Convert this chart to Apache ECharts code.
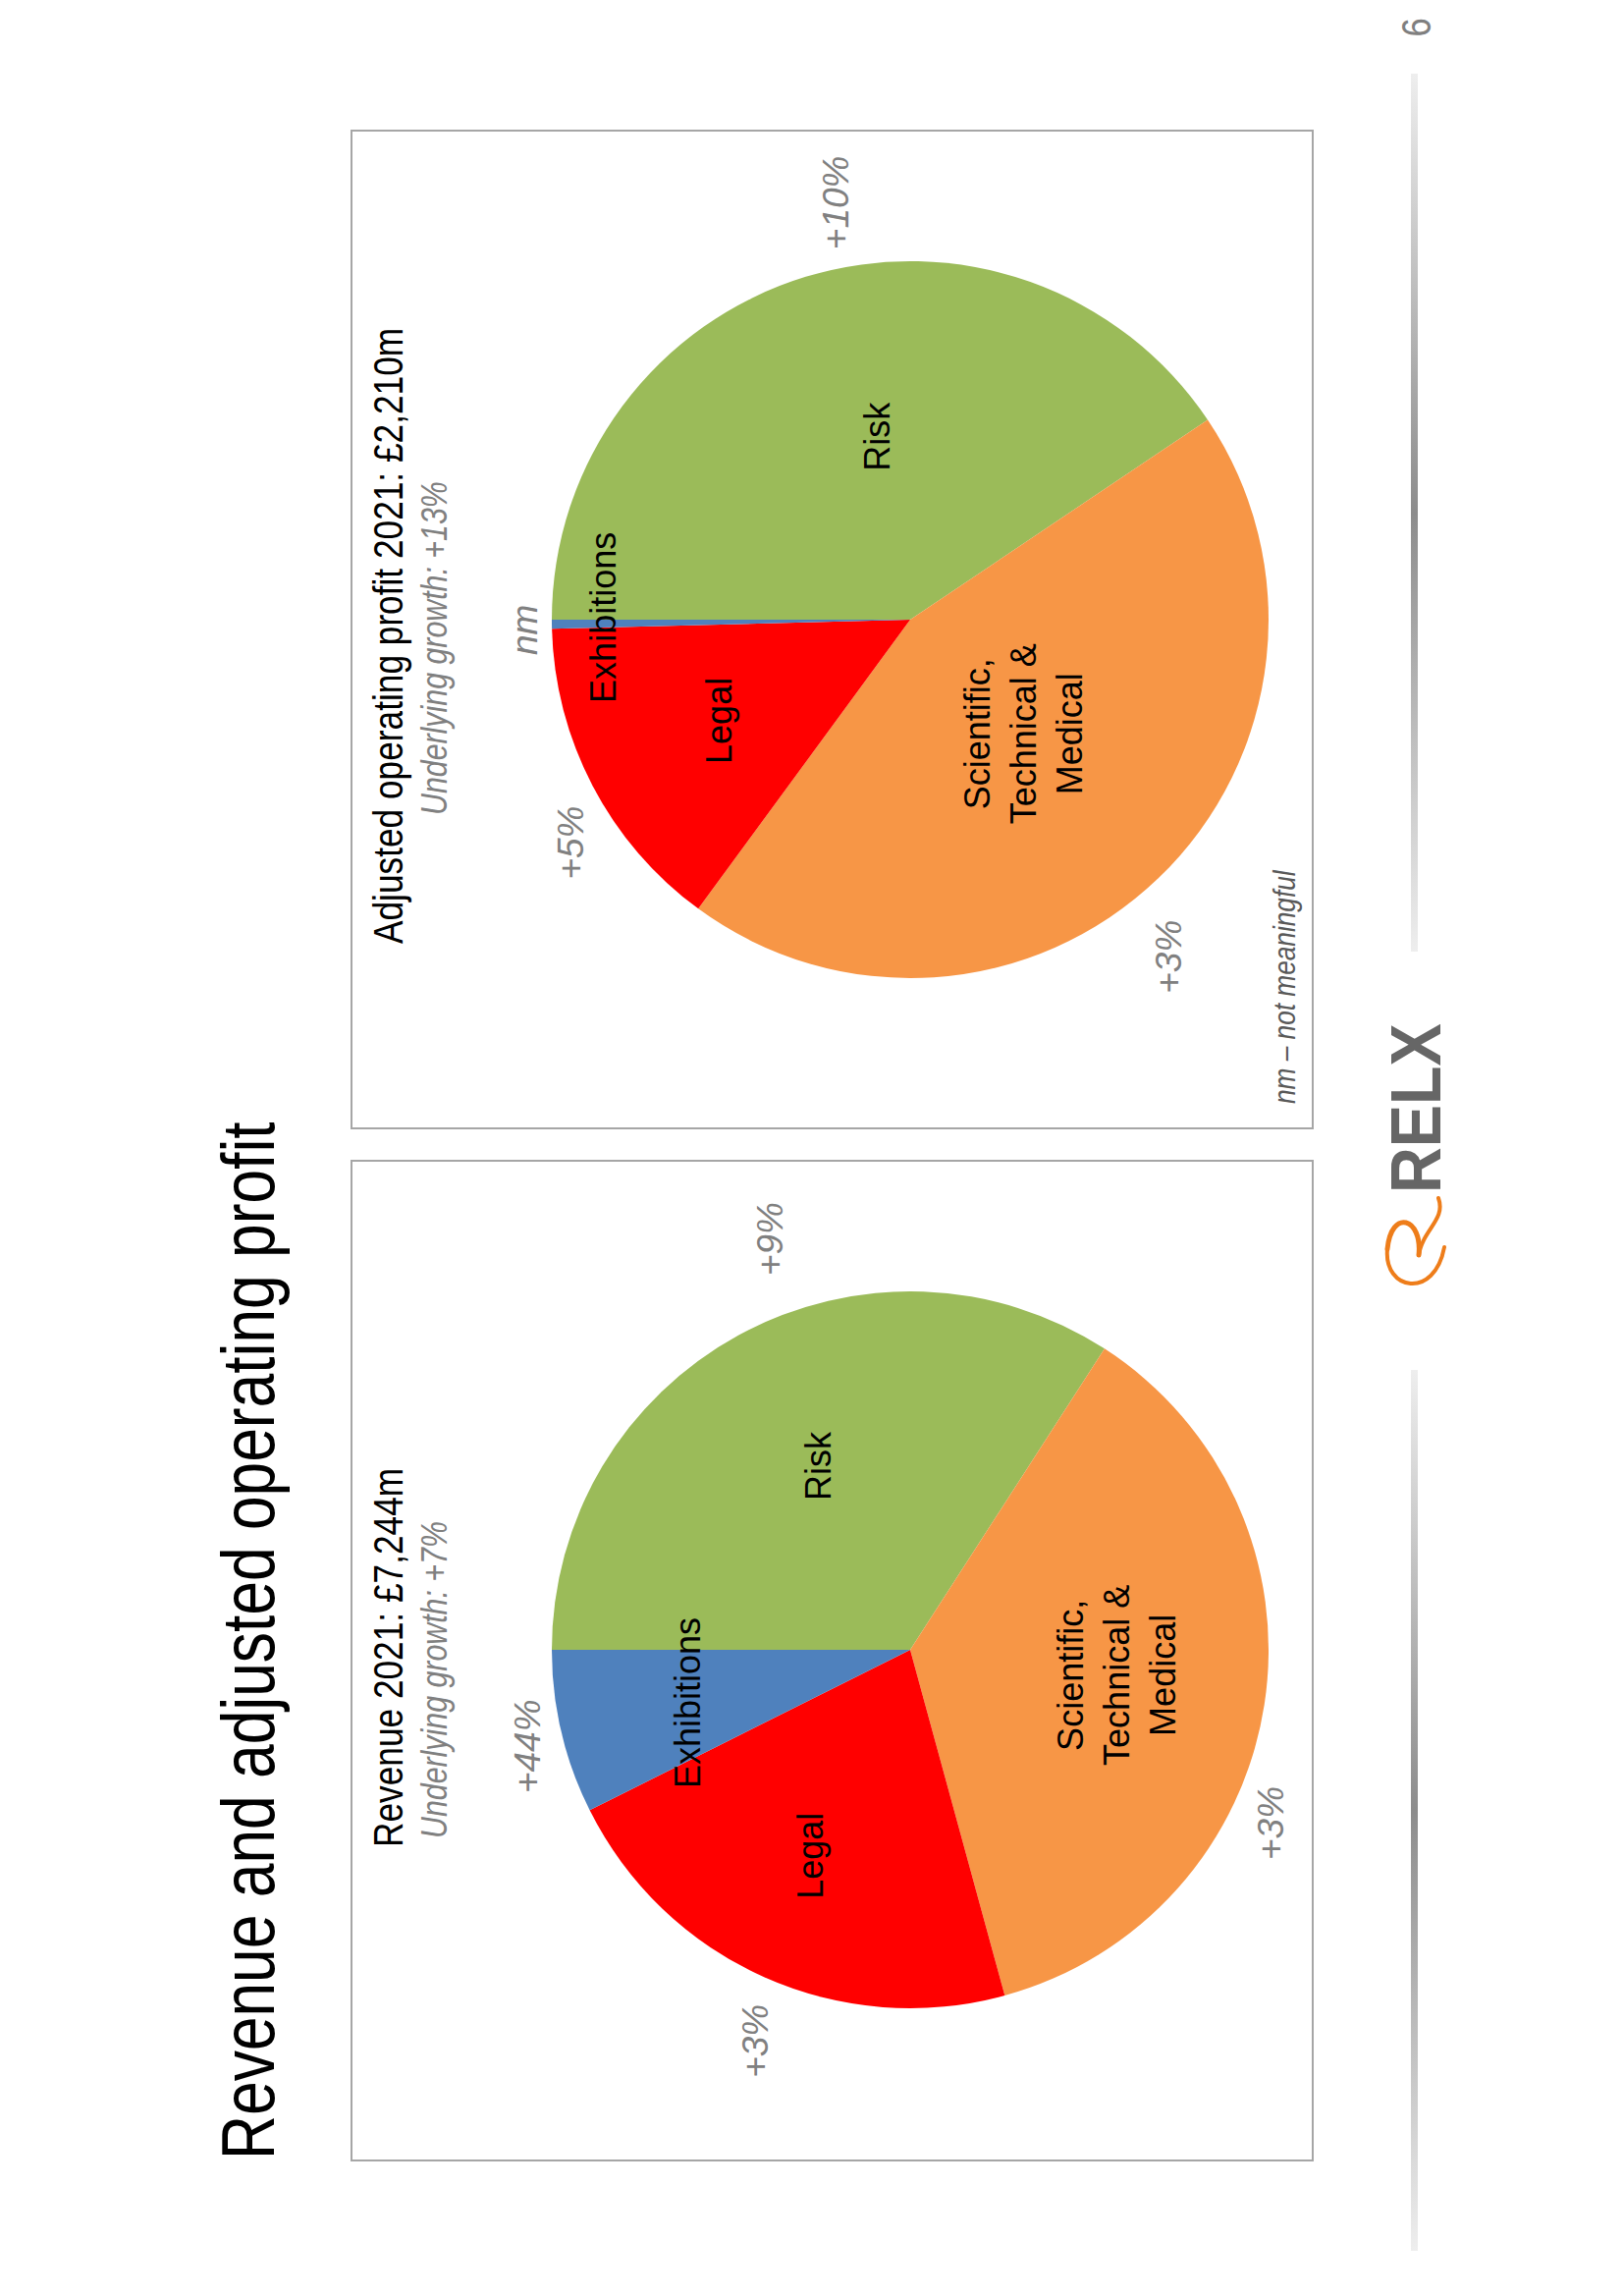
<!DOCTYPE html>
<html>
<head>
<meta charset="utf-8">
<script src="https://cdn.jsdelivr.net/npm/echarts@6/dist/echarts.min.js"></script>
<style>
html,body{margin:0;padding:0;background:#fff;overflow:hidden;width:1653px;height:2338px;}
#wrap{position:absolute;left:0;top:0;width:2338px;height:1653px;transform-origin:0 0;transform:translate(0,2338px) rotate(-90deg);}
</style>
</head>
<body>
<div id="wrap"></div>
<script>
// ---- data ----
const segments = ['Risk', 'Scientific,\nTechnical &\nMedical', 'Legal', 'Exhibitions'];
const revenueValues = [2472, 2653, 1584, 535];     // £m
const profitValues = [897, 983, 321, 9];           // £m
const revenueGrowth = ['+9%', '+3%', '+3%', '+44%'];
const profitGrowth = ['+10%', '+3%', '+5%', 'nm'];
const colors = ['#9BBB59', '#F79646', '#FF0000', '#4F81BD'];

const FONT = "'Liberation Sans',Arial,sans-serif";
const SQ = 0.82;   // horizontal condensing of slide text
const R = 365;
const revCenter = [658, 927];
const proCenter = [1707, 927];

function mk(values) { return segments.map((n, i) => ({ name: n, value: values[i] })); }

function basePie(values, center) {
  return {
    type: 'pie', center: center, radius: [0, R], startAngle: 90, clockwise: true,
    silent: true, animation: false, avoidLabelOverlap: false,
    itemStyle: { borderWidth: 0 },
    label: { show: false }, labelLine: { show: false },
    data: mk(values).map((d, i) => ({ ...d, itemStyle: { color: colors[i] } }))
  };
}
function namePie(values, center, nudge) {
  return {
    type: 'pie', center: center, radius: [73, R], startAngle: 90, clockwise: true,
    silent: true, animation: false, avoidLabelOverlap: false, z: 3,
    itemStyle: { color: 'rgba(0,0,0,0)', borderWidth: 0 },
    label: { show: true, position: 'inside', formatter: '{b}', fontFamily: FONT,
             fontSize: 36, lineHeight: 47, color: '#000', align: 'center' },
    labelLine: { show: false },
    labelLayout: p => ({ dx: nudge[p.dataIndex][0], dy: nudge[p.dataIndex][1] }),
    data: mk(values)
  };
}
function growthPie(values, center, growth, nudge) {
  return {
    type: 'pie', center: center, radius: [R, 475], startAngle: 90, clockwise: true,
    silent: true, animation: false, avoidLabelOverlap: false, z: 3,
    itemStyle: { color: 'rgba(0,0,0,0)', borderWidth: 0 },
    label: { show: true, position: 'inside', formatter: p => growth[p.dataIndex],
             fontFamily: FONT, fontSize: 37, fontStyle: 'italic', color: '#808080' },
    labelLine: { show: false },
    labelLayout: p => ({ dx: nudge[p.dataIndex][0], dy: nudge[p.dataIndex][1] }),
    data: mk(values)
  };
}

function txt(x, y, text, size, opts) {
  opts = opts || {};
  return {
    type: 'text', x: x, y: y, scaleX: opts.sx || SQ, silent: true, z: 10,
    style: {
      text: text, fontFamily: FONT, fontSize: size,
      fontStyle: opts.italic ? 'italic' : 'normal',
      fontWeight: opts.bold ? 'bold' : 'normal',
      fill: opts.color || '#000',
      textAlign: opts.align || 'left', textVerticalAlign: 'middle'
    }
  };
}
function gradBar(x, w) {
  return {
    type: 'rect', shape: { x: x, y: 1437, width: w, height: 7 }, silent: true,
    style: { fill: { type: 'linear', x: 0, y: 0, x2: 1, y2: 0, colorStops: [
      { offset: 0, color: '#EEEEEE' }, { offset: 0.5, color: '#8C8C8C' }, { offset: 1, color: '#EEEEEE' }] } }
  };
}
function curve(x1, y1, c1x, c1y, c2x, c2y, x2, y2, w) {
  return { type: 'bezierCurve', x: 1026, y: 1409, silent: true,
    shape: { x1: x1, y1: y1, cpx1: c1x, cpy1: c1y, cpx2: c2x, cpy2: c2y, x2: x2, y2: y2 },
    style: { fill: null, stroke: '#EE7D1A', lineWidth: w, lineCap: 'round' } };
}

const chart = echarts.init(document.getElementById('wrap'), null, { renderer: 'svg', width: 2338, height: 1653 });
chart.setOption({
  animation: false,
  backgroundColor: '#ffffff',
  series: [
    basePie(revenueValues, revCenter),
    basePie(profitValues, proCenter),
    namePie(revenueValues, revCenter, [[-8, 13], [8, -9], [-7, -11], [-3, -10]]),
    namePie(profitValues, proCenter, [[-26, 31], [44, -38], [0, 2], [5, -91]]),
    growthPie(revenueValues, revCenter, revenueGrowth, [[47, 60], [-112, -51], [-12, 15], [-1, 22]]),
    growthPie(profitValues, proCenter, profitGrowth, [[20, 48], [-38, -29], [-31, 29], [-5, 30]])
  ],
  graphic: [
    { type: 'rect', shape: { x: 138, y: 358, width: 1018, height: 979 }, silent: true,
      style: { fill: 'none', stroke: '#A6A6A6', lineWidth: 2 } },
    { type: 'rect', shape: { x: 1189, y: 358, width: 1016, height: 979 }, silent: true,
      style: { fill: 'none', stroke: '#A6A6A6', lineWidth: 2 } },
    txt(139, 253, 'Revenue and adjusted operating profit', 76),
    txt(457, 395, 'Revenue 2021: £7,244m', 43),
    txt(466, 442, 'Underlying growth: +7%', 37, { italic: true, color: '#808080' }),
    txt(1377, 395, 'Adjusted operating profit 2021: £2,210m', 43),
    txt(1508, 442, 'Underlying growth: +13%', 37, { italic: true, color: '#808080' }),
    txt(1214, 1308, 'nm – not meaningful', 32, { italic: true, color: '#595959' }),
    gradBar(46, 897),
    gradBar(1369, 894),
    txt(2310, 1442, '6', 42, { color: '#7F7F7F', align: 'center' }),
    txt(1123, 1442, 'RELX', 72, { bold: true, color: '#666666', sx: 0.9 }),
    curve(42, 62, -12, 52, -2, 0, 40, 4, 4),
    curve(40, 4, 82, 8, 72, 40, 34, 36, 5),
    curve(34, 36, 60, 40, 70, 64, 92, 56, 4)
  ]
});
</script>
</body>
</html>
